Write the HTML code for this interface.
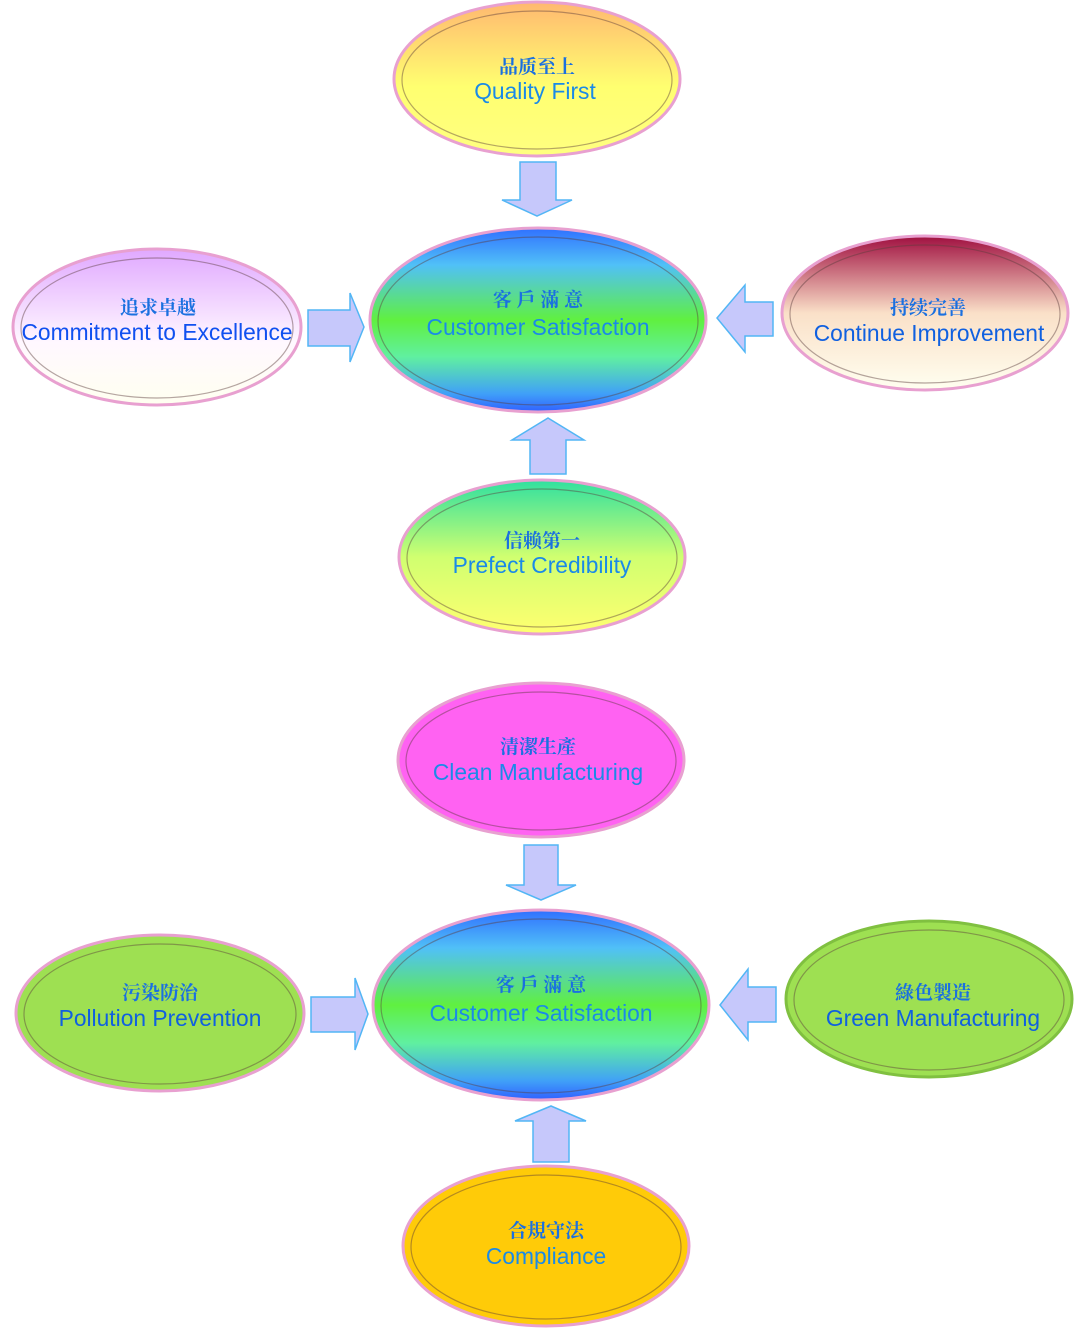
<!DOCTYPE html>
<html><head><meta charset="utf-8"><style>
html,body{margin:0;padding:0;background:#fff;}
svg{display:block;}
.cn{font-family:"Noto Serif CJK SC","Noto Sans CJK TC",serif;font-size:19px;fill:#1a70e0;text-anchor:middle;font-weight:bold;}
.en{font-family:"Liberation Sans",sans-serif;font-size:22.8px;fill:#1a8ae8;text-anchor:middle;}
.arr{fill:#c6c8fb;stroke:#52b6f5;stroke-width:1.5;}
.rim{fill:none;stroke:#e8a0d0;stroke-width:3;}
.in{fill:none;stroke:rgba(90,60,60,0.45);stroke-width:1.2;}
</style></head><body>
<svg width="1083" height="1333" viewBox="0 0 1083 1333" xmlns="http://www.w3.org/2000/svg">
<defs>
<linearGradient id="gQ" x1="0" y1="0" x2="0" y2="1"><stop offset="0" stop-color="#ffb870"/><stop offset="0.55" stop-color="#ffff70"/><stop offset="1" stop-color="#ffff80"/></linearGradient>
<linearGradient id="gC" x1="0" y1="0" x2="0" y2="1"><stop offset="0" stop-color="#3070ff"/><stop offset="0.2" stop-color="#50c0f8"/><stop offset="0.5" stop-color="#60f040"/><stop offset="0.7" stop-color="#60f0a0"/><stop offset="0.9" stop-color="#40a0f8"/><stop offset="1" stop-color="#3060ff"/></linearGradient>
<linearGradient id="gE" x1="0" y1="0" x2="0" y2="1"><stop offset="0" stop-color="#e0a8ff"/><stop offset="0.6" stop-color="#fff8ff"/><stop offset="1" stop-color="#fffff0"/></linearGradient>
<linearGradient id="gI" x1="0" y1="0" x2="0" y2="1"><stop offset="0" stop-color="#a01040"/><stop offset="0.5" stop-color="#fae0c8"/><stop offset="1" stop-color="#fffff0"/></linearGradient>
<linearGradient id="gP" x1="0" y1="0" x2="0" y2="1"><stop offset="0" stop-color="#30e0a0"/><stop offset="0.5" stop-color="#d0ff70"/><stop offset="1" stop-color="#ffff70"/></linearGradient>
</defs>

<ellipse cx="537" cy="79" rx="143" ry="77" fill="url(#gQ)"/><ellipse class="rim" cx="537" cy="79" rx="143" ry="77"/><ellipse class="in" cx="537" cy="80" rx="135" ry="69"/>
<text class="cn" x="537" y="73">品质至上</text><text class="en" x="535" y="99">Quality First</text>

<ellipse cx="538" cy="320" rx="168" ry="92" fill="url(#gC)"/><ellipse class="rim" cx="538" cy="320" rx="168" ry="92"/><ellipse class="in" cx="538" cy="321" rx="160" ry="84"/>
<text class="cn" x="538" y="306">客 戶 滿 意</text><text class="en" x="538" y="335">Customer Satisfaction</text>

<ellipse cx="157" cy="327" rx="144" ry="78" fill="url(#gE)"/><ellipse class="rim" cx="157" cy="327" rx="144" ry="78"/><ellipse class="in" cx="157" cy="328" rx="136" ry="70"/>
<text class="cn" x="158" y="314">追求卓越</text><text class="en" x="157" y="340" style="fill:#1050f0">Commitment to Excellence</text>

<ellipse cx="925" cy="313" rx="143" ry="77" fill="url(#gI)"/><ellipse class="rim" cx="925" cy="313" rx="143" ry="77"/><ellipse class="in" cx="925" cy="314" rx="135" ry="69"/>
<text class="cn" x="928" y="314">持续完善</text><text class="en" x="929" y="341" style="fill:#1060e0">Continue Improvement</text>

<ellipse cx="542" cy="557" rx="143" ry="77" fill="url(#gP)"/><ellipse class="rim" cx="542" cy="557" rx="143" ry="77"/><ellipse class="in" cx="542" cy="558" rx="135" ry="69"/>
<text class="cn" x="542" y="547">信赖第一</text><text class="en" x="542" y="573">Prefect Credibility</text>

<polygon class="arr" points="520,162 556,162 556,200 572,200 537,216 502,200 520,200"/>
<polygon class="arr" points="308,310 350,310 350,293 364,327 350,362 350,346 308,346"/>
<polygon class="arr" points="773,302 745,302 745,285 717,318 745,352 745,336 773,336"/>
<polygon class="arr" points="530,474 566,474 566,440 584,440 548,418 512,440 530,440"/>

<ellipse cx="541" cy="760" rx="143" ry="77" fill="#ff62f2"/><ellipse class="rim" cx="541" cy="760" rx="143" ry="77"/><ellipse class="in" cx="541" cy="761" rx="135" ry="69"/>
<text class="cn" x="538" y="753">清潔生產</text><text class="en" x="538" y="780">Clean Manufacturing</text>

<ellipse cx="541" cy="1005" rx="168" ry="95" fill="url(#gC)"/><ellipse class="rim" cx="541" cy="1005" rx="168" ry="95"/><ellipse class="in" cx="541" cy="1006" rx="160" ry="87"/>
<text class="cn" x="541" y="991">客 戶 滿 意</text><text class="en" x="541" y="1021">Customer Satisfaction</text>

<ellipse cx="160" cy="1013" rx="144" ry="78" fill="#9ee052"/><ellipse class="rim" cx="160" cy="1013" rx="144" ry="78"/><ellipse class="in" cx="160" cy="1014" rx="136" ry="70"/>
<text class="cn" x="160" y="999">污染防治</text><text class="en" x="160" y="1026" style="fill:#1060e0">Pollution Prevention</text>

<ellipse cx="929" cy="999" rx="143" ry="78" fill="#9ee052"/><ellipse class="rim" cx="929" cy="999" rx="143" ry="78" style="stroke:#80c040"/><ellipse class="in" cx="929" cy="1000" rx="135" ry="70"/>
<text class="cn" x="933" y="999">綠色製造</text><text class="en" x="933" y="1026" style="fill:#1060e0">Green Manufacturing</text>

<ellipse cx="546" cy="1246" rx="143" ry="80" fill="#ffcb08"/><ellipse class="rim" cx="546" cy="1246" rx="143" ry="80"/><ellipse class="in" cx="546" cy="1247" rx="135" ry="72"/>
<text class="cn" x="546" y="1237">合規守法</text><text class="en" x="546" y="1264">Compliance</text>

<polygon class="arr" points="524,845 558,845 558,885 576,885 541,900 506,885 524,885"/>
<polygon class="arr" points="311,997 355,997 355,978 368,1014 355,1050 355,1032 311,1032"/>
<polygon class="arr" points="776,987 748,987 748,969 720,1005 748,1040 748,1022 776,1022"/>
<polygon class="arr" points="533,1162 569,1162 569,1121 586,1121 551,1106 515,1121 533,1121"/>
</svg>
</body></html>
